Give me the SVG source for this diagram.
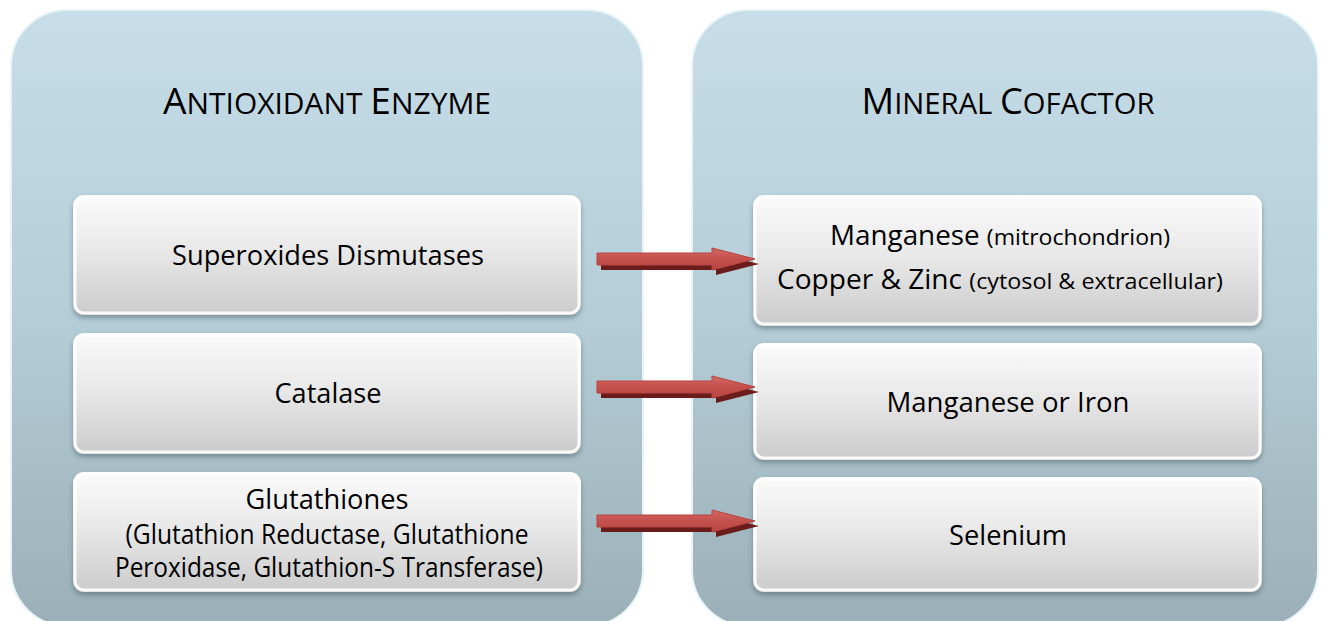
<svg xmlns="http://www.w3.org/2000/svg" width="1330" height="621" viewBox="0 0 1330 621">
  <defs>
    <linearGradient id="panelFill" x1="0" y1="0" x2="0" y2="1">
      <stop offset="0" stop-color="#c7dee9"/>
      <stop offset="0.5" stop-color="#b4cdd7"/>
      <stop offset="1" stop-color="#9bafb7"/>
    </linearGradient>
    <linearGradient id="boxFill" x1="0" y1="0" x2="0" y2="1">
      <stop offset="0" stop-color="#fbfbfb"/>
      <stop offset="0.45" stop-color="#e9e9e9"/>
      <stop offset="1" stop-color="#cbcbcb"/>
    </linearGradient>
    <linearGradient id="arrowFill" x1="0" y1="0" x2="0" y2="1">
      <stop offset="0" stop-color="#d46a66"/>
      <stop offset="0.5" stop-color="#c4504c"/>
      <stop offset="1" stop-color="#b94643"/>
    </linearGradient>
    <filter id="boxShadow" x="-5%" y="-10%" width="110%" height="130%">
      <feDropShadow dx="0" dy="3" stdDeviation="2.5" flood-color="#3a4f58" flood-opacity="0.45"/>
    </filter>
    <path id="arrowShape" d="M0,-6 H115 V-11 L158,0 L115,11 V6 H0 Z"/>
  </defs>
  <style>
    .panel { fill: url(#panelFill); stroke: #e8f4f8; stroke-width: 2; }
    .box { fill: url(#boxFill); filter: url(#boxShadow); }
    .boxHi { fill: none; stroke: #ffffff; stroke-width: 3; opacity: 0.9; }
    .title { font-family: "Open Sans", "Liberation Sans", sans-serif; fill: #000; }
    .label { font-family: "Open Sans", "Liberation Sans", sans-serif; fill: #000; font-size: 26.5px; text-anchor: middle; }
    .arrowBody { fill: url(#arrowFill); stroke: #b8423f; stroke-width: 1; }
    .arrowShadow { fill: #6a1c1b; }
  </style>

  <rect width="1330" height="621" fill="#ffffff"/>

  <!-- left column -->
  <g id="panel-enzyme">
    <rect class="panel" x="11" y="10" width="632" height="616" rx="56"/>
    <text class="title" x="327" y="114" text-anchor="middle" textLength="328" lengthAdjust="spacingAndGlyphs"><tspan font-size="36">A</tspan><tspan font-size="29">NTIOXIDANT </tspan><tspan font-size="36">E</tspan><tspan font-size="29">NZYME</tspan></text>
  </g>

  <!-- right column -->
  <g id="panel-cofactor">
    <rect class="panel" x="692" y="10" width="626" height="616" rx="56"/>
    <text class="title" x="1008" y="114" text-anchor="middle" textLength="293" lengthAdjust="spacingAndGlyphs"><tspan font-size="36">M</tspan><tspan font-size="29">INERAL </tspan><tspan font-size="36">C</tspan><tspan font-size="29">OFACTOR</tspan></text>
  </g>

  <g id="node-sod">
    <rect class="box" x="73" y="195" width="508" height="120" rx="11"/>
    <rect class="boxHi" x="75" y="197" width="504" height="116" rx="9"/>
    <text class="label" x="328" y="265" textLength="312" lengthAdjust="spacingAndGlyphs">Superoxides Dismutases</text>
  </g>

  <g id="node-catalase">
    <rect class="box" x="73" y="333" width="508" height="121" rx="11"/>
    <rect class="boxHi" x="75" y="335" width="504" height="117" rx="9"/>
    <text class="label" x="328" y="403" textLength="107" lengthAdjust="spacingAndGlyphs">Catalase</text>
  </g>

  <g id="node-glutathiones">
    <rect class="box" x="73" y="472" width="508" height="120" rx="11"/>
    <rect class="boxHi" x="75" y="474" width="504" height="116" rx="9"/>
    <text class="label" x="327" y="509" textLength="163" lengthAdjust="spacingAndGlyphs">Glutathiones</text>
    <text class="label" x="327" y="544" textLength="403" lengthAdjust="spacingAndGlyphs">(Glutathion Reductase, Glutathione</text>
    <text class="label" x="329" y="577" textLength="428" lengthAdjust="spacingAndGlyphs">Peroxidase, Glutathion-S Transferase)</text>
  </g>

  <g id="node-mn-cu-zn">
    <rect class="box" x="753" y="195" width="509" height="131" rx="11"/>
    <rect class="boxHi" x="755" y="197" width="505" height="127" rx="9"/>
    <text class="label" x="1000" y="245" textLength="340" lengthAdjust="spacingAndGlyphs"><tspan>Manganese </tspan><tspan font-size="22">(mitrochondrion)</tspan></text>
    <text class="label" x="1000" y="289" textLength="446" lengthAdjust="spacingAndGlyphs"><tspan>Copper &amp; Zinc </tspan><tspan font-size="22">(cytosol &amp; extracellular)</tspan></text>
  </g>

  <g id="node-mn-fe">
    <rect class="box" x="753" y="343" width="509" height="117" rx="11"/>
    <rect class="boxHi" x="755" y="345" width="505" height="113" rx="9"/>
    <text class="label" x="1008" y="412" textLength="243" lengthAdjust="spacingAndGlyphs">Manganese or Iron</text>
  </g>

  <g id="node-selenium">
    <rect class="box" x="753" y="477" width="509" height="115" rx="11"/>
    <rect class="boxHi" x="755" y="479" width="505" height="111" rx="9"/>
    <text class="label" x="1008" y="545" textLength="118" lengthAdjust="spacingAndGlyphs">Selenium</text>
  </g>

  <!-- connectors: block arrows with a dark offset shadow -->
  <g id="connectors">
    <use href="#arrowShape" class="arrowShadow" transform="translate(601,264)"/>
    <use href="#arrowShape" class="arrowBody" transform="translate(597,259)"/>
    <use href="#arrowShape" class="arrowShadow" transform="translate(601,392)"/>
    <use href="#arrowShape" class="arrowBody" transform="translate(597,387)"/>
    <use href="#arrowShape" class="arrowShadow" transform="translate(601,526)"/>
    <use href="#arrowShape" class="arrowBody" transform="translate(597,521)"/>
  </g>
</svg>
